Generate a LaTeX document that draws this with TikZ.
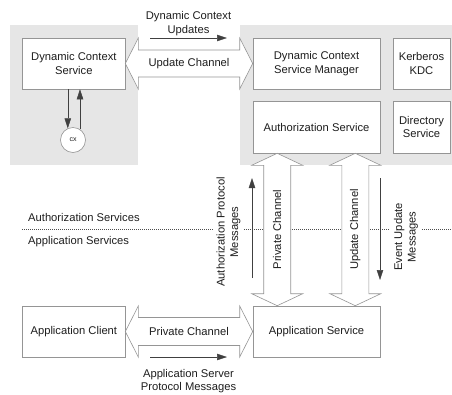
\documentclass[tikz,border=0pt]{standalone}
\usepackage{fontspec}
\setmainfont{Liberation Sans}
\usetikzlibrary{calc,arrows.meta}
\definecolor{bgray}{HTML}{E6E6E6}
\definecolor{lgray}{HTML}{959595}
\definecolor{txt}{HTML}{1E1E1E}
\begin{document}
\begin{tikzpicture}[x=1pt,y=-1pt,
  txtfont/.style={font=\fontsize{11.2}{13.4}\selectfont,text=txt},
  box/.style={draw=lgray,fill=white,line width=0.6pt,align=center,inner sep=0pt,txtfont},
  lbl/.style={align=center,inner sep=0pt,txtfont},
  chan/.style={draw=lgray,fill=white,line width=0.6pt,line join=miter},
  msg/.style={draw=black!75,line width=0.5pt,-{Triangle[length=10pt,width=6.5pt]}}
]
\useasboundingbox (0,0) rectangle (452,394);
% backgrounds
\fill[bgray] (10,25) rectangle (138,165);
\fill[bgray] (240,25) rectangle (452,165);
% divider
\draw[black!70,line width=0.6pt,dash pattern=on 1pt off 1pt] (22,229.5) -- (452,229.5);
% boxes
\node[box,minimum width=102.3,minimum height=51] (dcs) at (73.85,63.5) {Dynamic Context\\Service};
\node[box,minimum width=127,minimum height=51] (dcsm) at (316.5,63.5) {Dynamic Context\\Service Manager};
\node[box,minimum width=57,minimum height=51] (kdc) at (421.5,63.5) {Kerberos\\KDC};
\node[box,minimum width=127,minimum height=52] (auth) at (316.5,127) {Authorization Service};
\node[box,minimum width=57,minimum height=52] (dir) at (421.5,127) {Directory\\Service};
\node[box,minimum width=102.3,minimum height=51] (client) at (73.85,331.5) {Application Client};
\node[box,minimum width=127,minimum height=51] (appsvc) at (316.5,331.5) {Application Service};
\node[circle,draw=lgray,fill=white,line width=0.6pt,minimum size=25,inner sep=0pt,font=\fontsize{7}{8}\selectfont,text=txt] (cx) at (73,140) {cx};
% horizontal channels
\draw[chan] (dcs.east) -- ++(13,-25.5) -- ++(0,12) -- ($(dcsm.west)+(-13,-13.5)$) -- ++(0,-12) -- (dcsm.west)
  -- ++(-13,25.5) -- ++(0,-12) -- ($(dcs.east)+(13,13.5)$) -- ++(0,12) -- cycle;
\node[lbl] at ($(dcs.east)!0.5!(dcsm.west)$) {Update Channel};
\draw[chan] (client.east) -- ++(13,-25.5) -- ++(0,11.5) -- ($(appsvc.west)+(-13,-14)$) -- ++(0,-11.5) -- (appsvc.west)
  -- ++(-13,25.5) -- ++(0,-11.5) -- ($(client.east)+(13,14)$) -- ++(0,11.5) -- cycle;
\node[lbl] at ($(client.east)!0.5!(appsvc.west)$) {Private Channel};
% vertical channels
\coordinate (t1) at ($(auth.south west)+(24.5,0)$);
\coordinate (b1) at (t1 |- appsvc.north);
\draw[chan] (t1) -- ++(25.5,12) -- ++(-12,0) -- ($(b1)+(13.5,-12)$) -- ++(12,0) -- (b1)
  -- ++(-25.5,-12) -- ++(12,0) -- ($(t1)+(-13.5,12)$) -- ++(-12,0) -- cycle;
\node[lbl,rotate=90] at ($(t1)!0.5!(b1)$) {Private Channel};
\coordinate (t2) at ($(auth.south east)+(-25,0)$);
\coordinate (b2) at (t2 |- appsvc.north);
\draw[chan] (t2) -- ++(25.5,12) -- ++(-12,0) -- ($(b2)+(13.5,-12)$) -- ++(12,0) -- (b2)
  -- ++(-25.5,-12) -- ++(12,0) -- ($(t2)+(-13.5,12)$) -- ++(-12,0) -- cycle;
\node[lbl,rotate=90] at ($(t2)!0.5!(b2)$) {Update Channel};
% labels
\node[lbl,anchor=west] (authsvcs) at (28,217) {Authorization Services};
\node[lbl,anchor=west] (appsvcs) at (28,242) {Application Services};
\node[lbl,rotate=90,fill=white,inner ysep=3pt] (apm) at (228.5,232) {Authorization Protocol\\Messages};
\node[lbl,rotate=90,fill=white,inner ysep=4pt] (eum) at (406,237) {Event Update\\Messages};
\node[lbl] (dcu) at (188.5,23.5) {Dynamic Context\\Updates};
\node[lbl] (aspm) at (188.5,381) {Application Server\\Protocol Messages};
% message arrows
\coordinate (u1) at (150,38); \coordinate (u2) at (227,38);
\draw[msg] (u1) -- (u2);
\coordinate (p1) at (150,357); \coordinate (p2) at (227,357);
\draw[msg] (p1) -- (p2);
\coordinate (a1) at (252,278); \coordinate (a2) at (252,178);
\draw[msg] (a1) -- (a2);
\coordinate (e1) at (380,178); \coordinate (e2) at (380,280);
\draw[msg] (e1) -- (e2);
\draw[msg] (cx.114 |- dcs.south) -- (cx.114);
\draw[msg] (cx.57) -- (cx.57 |- dcs.south);
\end{tikzpicture}
\end{document}
